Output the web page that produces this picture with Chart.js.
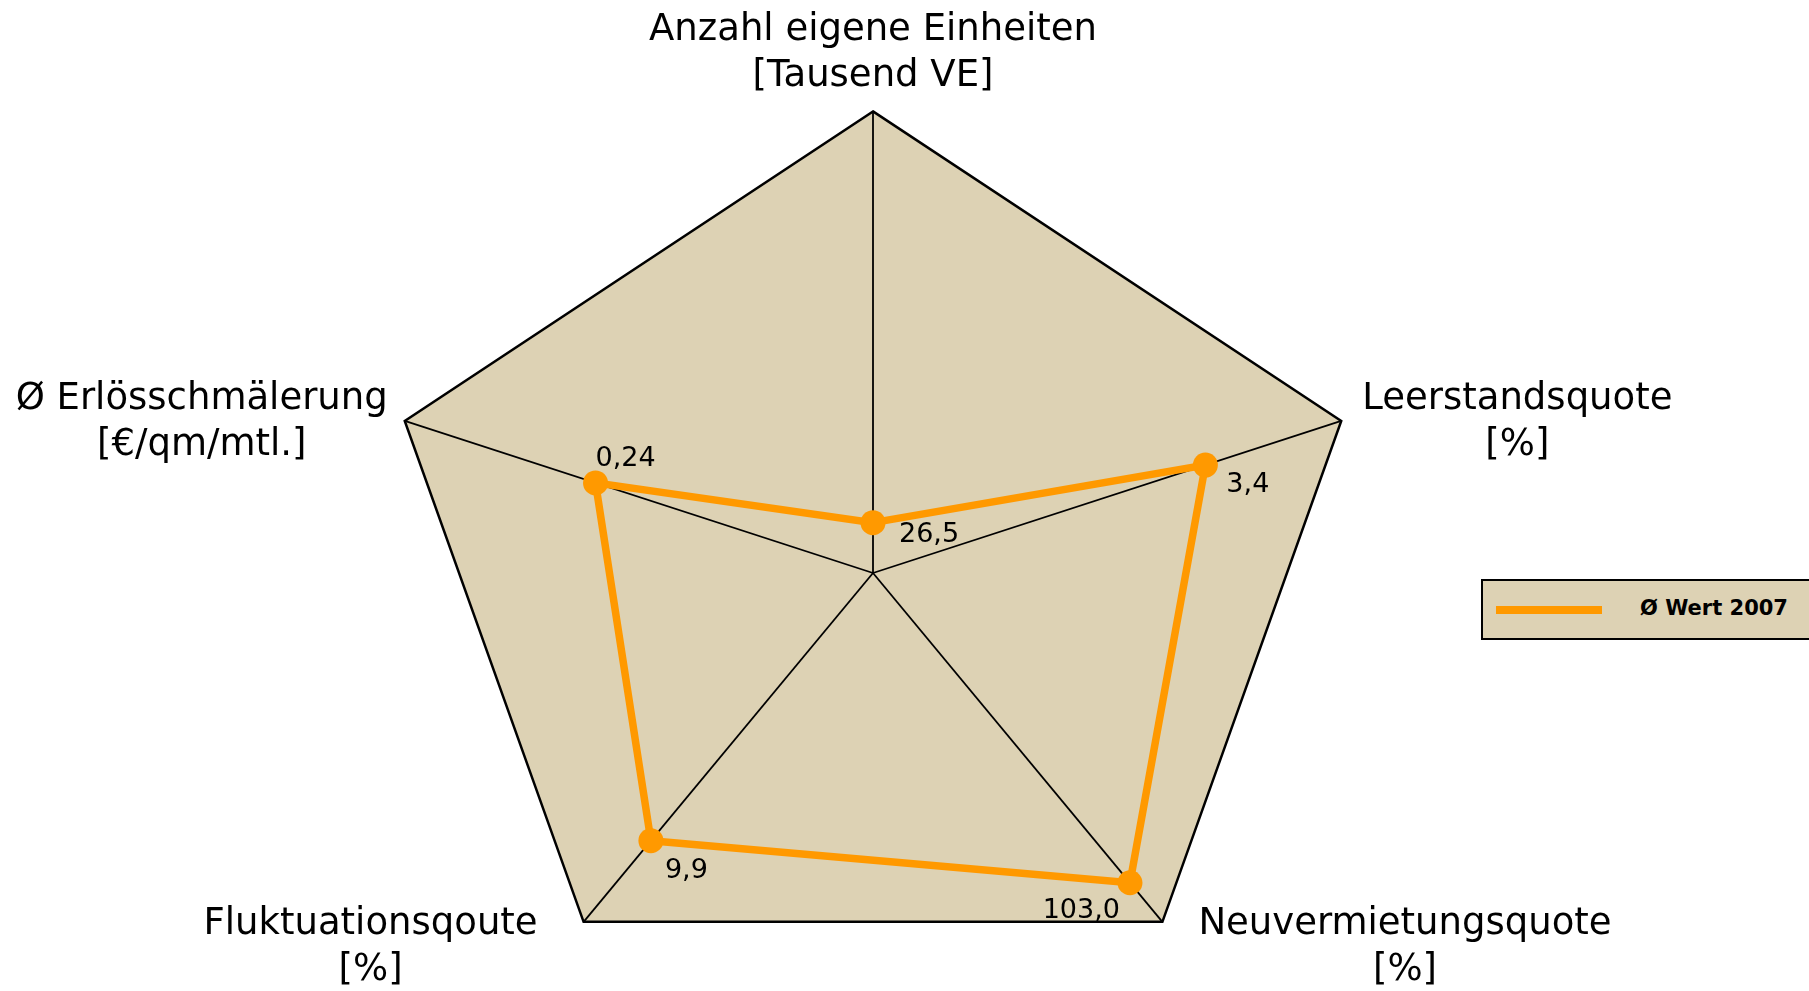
<!DOCTYPE html>
<html lang="de">
<head>
<meta charset="utf-8">
<title>Kennzahlen 2007</title>
<script src="https://cdn.jsdelivr.net/npm/chart.js@4.4.1/dist/chart.umd.min.js"></script>
<style>
  html, body { margin: 0; padding: 0; background: #fff; overflow: hidden; }
  #wrap { position: relative; width: 1809px; height: 991px; overflow: hidden; }
  #radar { position: absolute; left: 0; top: 0; }
  #legend {
    position: absolute; left: 1481px; top: 579px; width: 340px; height: 57px;
    background: #DDD2B4; border: 2px solid #000; box-sizing: content-box;
    font: bold 21px "DejaVu Sans", Verdana, sans-serif; color: #000;
  }
  #legend .swatch { position: absolute; left: 13px; top: 25px; width: 106px; height: 8px; background: #FF9900; }
  #legend .txt { position: absolute; left: 157px; top: 15px; white-space: nowrap; }
</style>
</head>
<body>
<div id="wrap">
  <canvas id="radar" width="1809" height="1100"></canvas>
  <div id="legend"><span class="swatch"></span><span class="txt">Ø Wert 2007</span></div>
</div>
<script>
// axes (clockwise from top)
const categories = [
  ['Anzahl eigene Einheiten', '[Tausend VE]'],
  ['Leerstandsquote', '[%]'],
  ['Neuvermietungsquote', '[%]'],
  ['Fluktuationsqoute', '[%]'],
  ['Ø Erlösschmälerung', '[€/qm/mtl.]']
];
// Ø Wert 2007
const values = [26.5, 3.4, 103.0, 9.9, 0.24];
const decimals = [1, 1, 1, 1, 2];
// each axis has its own scale, outer corner of the pentagon = axisMax
const axisMax = [243, 4.79, 116, 12.9, 0.405];

const seriesName = 'Ø Wert 2007';
const ORANGE = '#FF9900';
const BEIGE = '#DDD2B4';
const STRETCH_X = 1.099;  // original pentagon is wider than tall
const HUB_DROP = 0.0304;  // spokes meet a bit below the pentagon's middle

// radial scale: widened pentagon, spokes from a hub slightly below centre
class StretchedRadialScale extends Chart.RadialLinearScale {
  getPointPosition(index, distance, additionalAngle) {
    const R = this.drawingArea;
    const p = super.getPointPosition(index, R, additionalAngle || 0);
    const vx = this.xCenter + (p.x - this.xCenter) * STRETCH_X;
    const vy = p.y - HUB_DROP * R;
    const f = R ? distance / R : 0;
    return { x: this.xCenter + f * (vx - this.xCenter), y: this.yCenter + f * (vy - this.yCenter), angle: p.angle };
  }
}
StretchedRadialScale.id = 'stretchedRadial';
StretchedRadialScale.defaults = Chart.RadialLinearScale.defaults;
Chart.register(StretchedRadialScale);

const fmt = (v, d) => v.toFixed(d).replace('.', ',');

// axis titles, centred lines next to each corner
const axisTitles = {
  id: 'axisTitles',
  afterDraw(chart) {
    const s = chart.scales.r;
    const ctx = chart.ctx;
    const lh = 46;
    ctx.save();
    ctx.font = '37px "DejaVu Sans", Verdana, sans-serif';
    ctx.fillStyle = '#000';
    ctx.textAlign = 'center';
    ctx.textBaseline = 'alphabetic';
    categories.forEach((lines, i) => {
      const v = s.getPointPosition(i, s.drawingArea);
      const w = Math.max(...lines.map(l => ctx.measureText(l).width));
      const dx = v.x - s.xCenter;
      let cx, y0;
      if (Math.abs(dx) < 2) {
        cx = v.x;
        y0 = v.y - 71;
      } else if (v.y < s.yCenter) {
        cx = dx > 0 ? v.x + 21 + w / 2 : v.x - 17 - w / 2;
        y0 = v.y - 12;
      } else {
        cx = dx > 0 ? v.x + 36 + w / 2 : v.x - 46 - w / 2;
        y0 = v.y + 12;
      }
      lines.forEach((l, k) => ctx.fillText(l, cx, y0 + k * lh));
    });
    ctx.restore();
  }
};

// value labels beside the points
const valueOffsets = [[26, 19, 'left'], [21, 27, 'left'], [-10, 35, 'right'], [14, 37, 'left'], [0, -17, 'left']];
const valueLabels = {
  id: 'valueLabels',
  afterDatasetsDraw(chart) {
    const ctx = chart.ctx;
    const meta = chart.getDatasetMeta(0);
    ctx.save();
    ctx.font = '27px "DejaVu Sans", Verdana, sans-serif';
    ctx.fillStyle = '#000';
    ctx.textBaseline = 'alphabetic';
    meta.data.forEach((pt, i) => {
      const o = valueOffsets[i];
      ctx.textAlign = o[2];
      ctx.fillText(fmt(values[i], decimals[i]), pt.x + o[0], pt.y + o[1]);
    });
    ctx.restore();
  }
};

const chart = new Chart(document.getElementById('radar'), {
  type: 'radar',
  data: {
    labels: categories,
    datasets: [{
      label: seriesName,
      data: values.map((v, i) => v / axisMax[i]),
      borderColor: ORANGE,
      backgroundColor: ORANGE,
      borderWidth: 7.5,
      fill: false,
      pointRadius: 12.5,
      pointHoverRadius: 12.5,
      pointBackgroundColor: ORANGE,
      pointBorderWidth: 0,
      tension: 0
    }]
  },
  options: {
    responsive: false,
    animation: false,
    layout: { padding: { top: 125, bottom: 79, left: 425, right: 488 } },
    plugins: { legend: { display: false }, tooltip: { enabled: false } },
    scales: {
      r: {
        type: 'stretchedRadial',
        min: 0,
        max: 1,
        backgroundColor: BEIGE,
        ticks: { display: false, stepSize: 1 },
        grid: { color: '#000', lineWidth: 2.5 },
        angleLines: { color: '#000', lineWidth: 1.8 },
        pointLabels: { display: false }
      }
    }
  },
  plugins: [axisTitles, valueLabels]
});
</script>
</body>
</html>
